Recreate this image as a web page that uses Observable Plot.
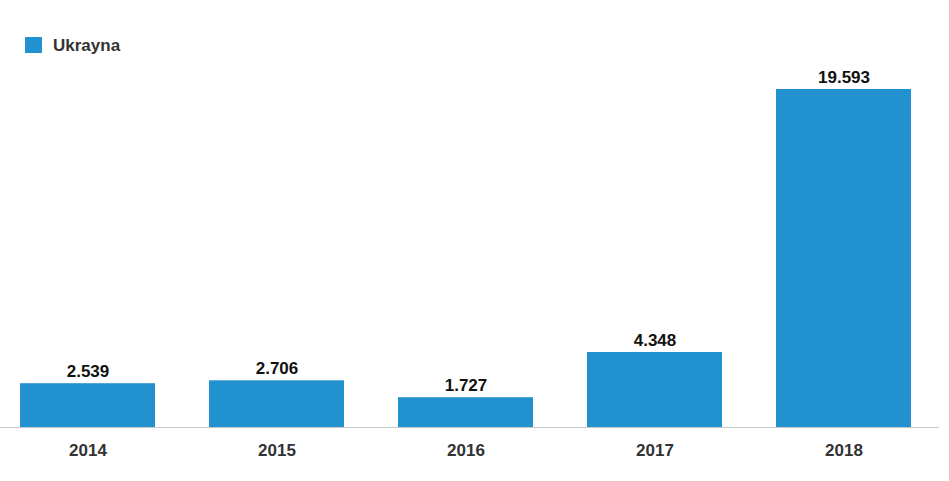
<!DOCTYPE html>
<html>
<head>
<meta charset="utf-8">
<script src="https://cdn.jsdelivr.net/npm/d3@7"></script>
<script src="https://cdn.jsdelivr.net/npm/@observablehq/plot@0.6"></script>
<style>
  body { margin: 0; background: #fff; font-family: "Helvetica Neue", Helvetica, "Liberation Sans", Arial, sans-serif; }
  #legend { height: 60px; position: relative; }
  #legend .sw { position: absolute; left: 25px; top: 37px; width: 17px; height: 16px; background: #2191d0; }
  #legend .lb { position: absolute; left: 53px; top: 37px; font-size: 17px; font-weight: bold; color: #333; line-height: 18px; }
</style>
</head>
<body>
<div id="legend"><div class="sw"></div><div class="lb">Ukrayna</div></div>
<div id="chart"></div>
<script>
const years = ["2014", "2015", "2016", "2017", "2018"];
const values = [2539, 2706, 1727, 4348, 19593];
const seriesName = "Ukrayna";
const barColor = "#2191d0";

const data = years.map((y, i) => ({year: y, value: values[i]}));
const fmt = d3.formatLocale({decimal: ",", thousands: ".", grouping: [3], currency: ["", ""]}).format(",d");

const chart = Plot.plot({
  width: 949,
  height: 421,
  marginLeft: 20,
  marginRight: 38,
  marginTop: 29,
  marginBottom: 54,
  style: {fontFamily: '"Helvetica Neue", Helvetica, "Liberation Sans", Arial, sans-serif', background: "#fff"},
  x: {domain: years, paddingInner: 0.2857, paddingOuter: 0, round: false, label: null},
  y: {domain: [0, 19593], axis: null},
  marks: [
    Plot.barY(data, {x: "year", y: "value", fill: barColor}),
    Plot.ruleY([0], {stroke: "#c8c8c8", strokeWidth: 1, insetLeft: -20, insetRight: -28}),
    Plot.text(data, {x: "year", y: "value", text: d => fmt(d.value), dy: -12, fontSize: 17, fontWeight: "bold", fill: "#111"}),
    Plot.axisX({tickSize: 0, tickPadding: 16, fontSize: 17, fontWeight: "bold", color: "#333", label: null})
  ]
});
document.getElementById("chart").appendChild(chart);
</script>
</body>
</html>
